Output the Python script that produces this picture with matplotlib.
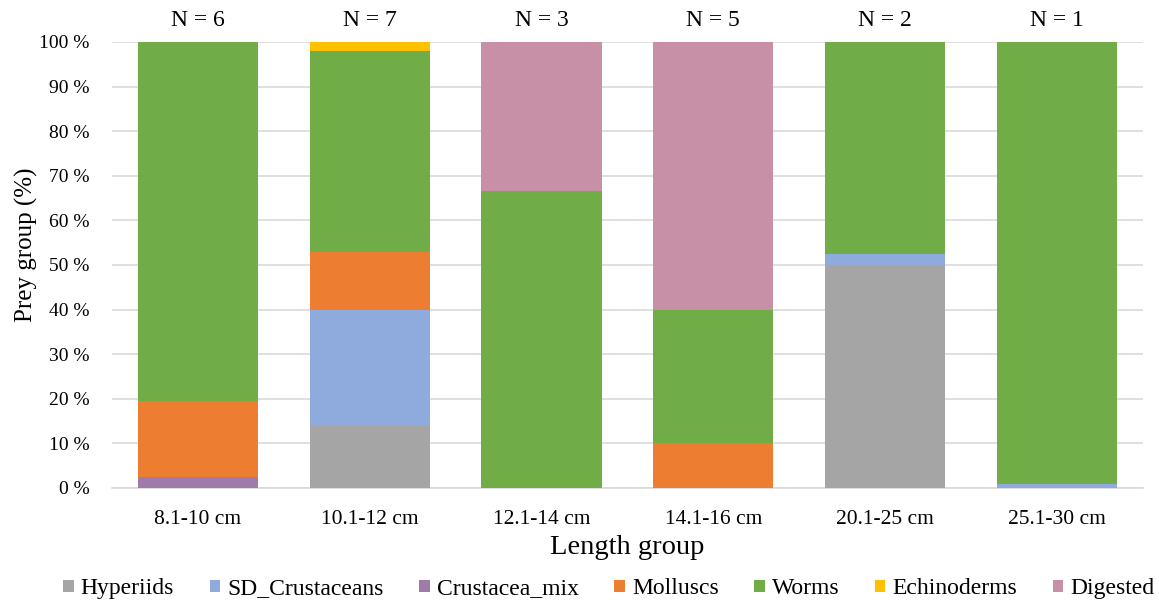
import matplotlib
matplotlib.use("Agg")
import matplotlib.pyplot as plt
import numpy as np

plt.rcParams['font.family'] = ['Liberation Serif', 'DejaVu Serif']

groups = ["8.1-10 cm", "10.1-12 cm", "12.1-14 cm", "14.1-16 cm", "20.1-25 cm", "25.1-30 cm"]
n_fish = [6, 7, 3, 5, 2, 1]

hyperiids = [0, 14, 0, 0, 50, 0]
sd_crustaceans = [0, 26, 0, 0, 2.5, 1]
crustacea_mix = [2.5, 0, 0, 0, 0, 0]
molluscs = [16.9, 13, 0, 10, 0, 0]
worms = [80.6, 45, 66.7, 30, 47.5, 99]
echinoderms = [0, 2, 0, 0, 0, 0]
digested = [0, 0, 33.3, 60, 0, 0]

series = [
    ("Hyperiids", hyperiids, "#a5a5a5"),
    ("SD_Crustaceans", sd_crustaceans, "#8faadc"),
    ("Crustacea_mix", crustacea_mix, "#9e7bab"),
    ("Molluscs", molluscs, "#ed7d31"),
    ("Worms", worms, "#70ad47"),
    ("Echinoderms", echinoderms, "#ffc000"),
    ("Digested", digested, "#c890a7"),
]

fig = plt.figure(figsize=(11.59, 6.05), dpi=100)
ax = fig.add_axes([0.0966, 0.1934, 0.8894, 0.7372])

x = np.arange(len(groups))
bottom = np.zeros(len(groups))
for name, vals, color in series:
    vals = np.array(vals, dtype=float)
    ax.bar(x, vals, bottom=bottom, width=0.70, color=color, label=name, zorder=3)
    bottom += vals

for xi, n in zip(x, n_fish):
    ax.text(xi, 102.5, f"N = {n}", ha="center", va="bottom", fontsize=17)

ax.set_xlim(-0.5, len(groups) - 0.5)
ax.set_ylim(0, 100)
ax.set_yticks(np.arange(0, 101, 10))
ax.set_yticklabels([f"{v} %" for v in range(0, 101, 10)], fontsize=14)
ax.set_xticks(x)
ax.set_xticklabels(groups, fontsize=15.5)
ax.tick_params(axis="y", length=0, pad=16)
ax.tick_params(axis="x", length=0, pad=16)
ax.grid(axis="y", color="#d9d9d9", linewidth=1.2, zorder=0)
for s in ["top", "right", "left"]:
    ax.spines[s].set_visible(False)
ax.spines["bottom"].set_color("#d9d9d9")
ax.spines["bottom"].set_linewidth(1.2)

ax.set_xlabel("Length group", fontsize=20.5, labelpad=4)
ax.set_ylabel("Prey group (%)", fontsize=18)
ax.yaxis.set_label_coords(-0.072, 0.545)

ax.legend(loc="upper center", bbox_to_anchor=(0.482, -0.155), ncol=7, frameon=False,
          fontsize=17, handlelength=0.45, handleheight=0.45, handletextpad=0.3,
          columnspacing=1.5)

fig.savefig("out.png", dpi=100)
